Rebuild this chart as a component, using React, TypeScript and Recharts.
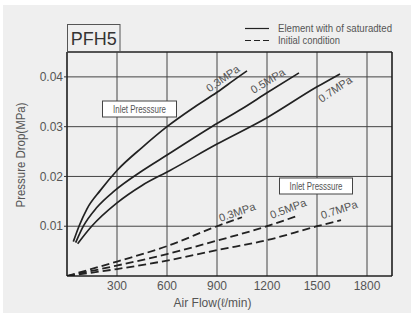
import React from 'react';
import { LineChart, Line, XAxis, YAxis, CartesianGrid, ReferenceLine } from 'recharts';

const xTicks = [300, 600, 900, 1200, 1500, 1800];
const yTicks = [0.01, 0.02, 0.03, 0.04];

const sat03 = [
  { x: 38, y: 0.0069 }, { x: 72, y: 0.01 }, { x: 120, y: 0.0135 }, { x: 200, y: 0.0172 },
  { x: 300, y: 0.0212 }, { x: 450, y: 0.0258 }, { x: 600, y: 0.03 }, { x: 750, y: 0.0336 },
  { x: 900, y: 0.0369 }, { x: 1020, y: 0.0398 }, { x: 1080, y: 0.0412 },
];
const sat05 = [
  { x: 52, y: 0.0067 }, { x: 98, y: 0.01 }, { x: 180, y: 0.0138 }, { x: 288, y: 0.0172 },
  { x: 454, y: 0.0212 }, { x: 600, y: 0.0243 }, { x: 868, y: 0.03 }, { x: 1050, y: 0.0336 },
  { x: 1200, y: 0.0368 }, { x: 1392, y: 0.0408 },
];
const sat07 = [
  { x: 64, y: 0.0065 }, { x: 148, y: 0.01 }, { x: 300, y: 0.0147 }, { x: 450, y: 0.0182 },
  { x: 618, y: 0.0212 }, { x: 900, y: 0.0265 }, { x: 1200, y: 0.0318 }, { x: 1500, y: 0.038 },
  { x: 1638, y: 0.0406 },
];
const init03 = [
  { x: 0, y: 0 }, { x: 300, y: 0.0029 }, { x: 600, y: 0.006 }, { x: 900, y: 0.01 }, { x: 1050, y: 0.0118 },
];
const init05 = [
  { x: 0, y: 0 }, { x: 300, y: 0.0021 }, { x: 600, y: 0.0044 }, { x: 900, y: 0.0071 }, { x: 1200, y: 0.01 }, { x: 1392, y: 0.0122 },
];
const init07 = [
  { x: 0, y: 0 }, { x: 300, y: 0.0014 }, { x: 600, y: 0.0031 }, { x: 900, y: 0.0052 }, { x: 1200, y: 0.0072 }, { x: 1500, y: 0.01 }, { x: 1644, y: 0.0112 },
];

const FONT = '"Liberation Sans", Arial, Helvetica, sans-serif';
const LINE = '#222';
const TXT = '#555';

export default function App() {
  const tick = { fontSize: 12, fill: TXT, fontFamily: FONT };
  return (
    <div style={{ position: 'absolute', left: 0, top: 0, width: 412, height: 315, background: '#fff' }}>
      <div style={{ position: 'absolute', left: 3, top: 5, width: 408, height: 308, background: '#efefef' }} />
      <div style={{ position: 'absolute', left: 0, top: 0 }}>
        <LineChart width={412} height={315} margin={{ top: 52, right: 20, bottom: 0, left: 0 }}>
          <CartesianGrid stroke="#444" strokeWidth={1} horizontal vertical />
          <XAxis
            type="number"
            dataKey="x"
            domain={[0, 1950]}
            ticks={xTicks}
            height={39}
            tickLine={false}
            tickSize={0}
            tickMargin={5}
            axisLine={{ stroke: '#111', strokeWidth: 1.2 }}
            tick={tick}
            allowDataOverflow
          />
          <YAxis
            type="number"
            dataKey="y"
            domain={[0, 0.045]}
            ticks={yTicks}
            width={67}
            tickSize={3}
            tickMargin={1}
            tickLine={{ stroke: '#333' }}
            axisLine={{ stroke: '#111', strokeWidth: 1.2 }}
            tick={tick}
            tickFormatter={(v: number) => v.toFixed(2)}
            allowDataOverflow
          />
          <ReferenceLine y={0.045} stroke="#111" strokeWidth={1.2} />
          <ReferenceLine x={1950} stroke="#111" strokeWidth={1.2} />
          <Line data={sat03} dataKey="y" type="monotone" stroke={LINE} strokeWidth={1.7} dot={false} isAnimationActive={false} />
          <Line data={sat05} dataKey="y" type="monotone" stroke={LINE} strokeWidth={1.7} dot={false} isAnimationActive={false} />
          <Line data={sat07} dataKey="y" type="monotone" stroke={LINE} strokeWidth={1.7} dot={false} isAnimationActive={false} />
          <Line data={init03} dataKey="y" type="monotone" stroke={LINE} strokeWidth={1.8} strokeDasharray="8 4" dot={false} isAnimationActive={false} />
          <Line data={init05} dataKey="y" type="monotone" stroke={LINE} strokeWidth={1.8} strokeDasharray="8 4" dot={false} isAnimationActive={false} />
          <Line data={init07} dataKey="y" type="monotone" stroke={LINE} strokeWidth={1.8} strokeDasharray="8 4" dot={false} isAnimationActive={false} />
        </LineChart>
      </div>
      <svg width={412} height={315} style={{ position: 'absolute', left: 0, top: 0, pointerEvents: 'none' }} fontFamily={FONT}>
        <rect x={67.5} y={24.5} width={52.5} height={27.5} fill="none" stroke="#555" strokeWidth={1} />
        <text x={93.7} y={45} fontSize={18} fill="#333" textAnchor="middle">PFH5</text>

        <line x1={245} x2={269} y1={28.5} y2={28.5} stroke={LINE} strokeWidth={1.2} />
        <text x={278} y={32} fontSize={11} fill={TXT} textLength={114} lengthAdjust="spacingAndGlyphs">Element with of saturadted</text>
        <line x1={245} x2={269} y1={40.5} y2={40.5} stroke={LINE} strokeWidth={1.2} strokeDasharray="6 3" />
        <text x={278} y={44} fontSize={11} fill={TXT} textLength={62} lengthAdjust="spacingAndGlyphs">Initial condition</text>

        <rect x={102.5} y={101} width={74} height={16} fill="#fff" stroke="#444" strokeWidth={1} />
        <text x={113} y={113} fontSize={11} fill={TXT} textLength={53} lengthAdjust="spacingAndGlyphs">Inlet Presssure</text>
        <rect x={279.5} y={178} width={73} height={16} fill="#fff" stroke="#444" strokeWidth={1} />
        <text x={289.5} y={190} fontSize={11} fill={TXT} textLength={53} lengthAdjust="spacingAndGlyphs">Inlet Presssure</text>

        <text transform="translate(222.7,78.3) rotate(-35)" textAnchor="middle" dominantBaseline="central" fontSize={11} fill={TXT}>0.3MPa</text>
        <text transform="translate(267.7,80.7) rotate(-31)" textAnchor="middle" dominantBaseline="central" fontSize={11} fill={TXT}>0.5MPa</text>
        <text transform="translate(335,89) rotate(-34)" textAnchor="middle" dominantBaseline="central" fontSize={11} fill={TXT}>0.7MPa</text>

        <text transform="translate(237,212) rotate(-19)" textAnchor="middle" dominantBaseline="central" fontSize={11} fill={TXT}>0.3MPa</text>
        <text transform="translate(288,208.5) rotate(-21)" textAnchor="middle" dominantBaseline="central" fontSize={11} fill={TXT}>0.5MPa</text>
        <text transform="translate(339,209.5) rotate(-18)" textAnchor="middle" dominantBaseline="central" fontSize={11} fill={TXT}>0.7MPa</text>

        <text transform="translate(25,155) rotate(-90)" textAnchor="middle" fontSize={12} fill={TXT} textLength={105} lengthAdjust="spacingAndGlyphs">Pressure Drop(MPa)</text>
        <text x={212.5} y={307} textAnchor="middle" fontSize={12} fill={TXT}>Air Flow(ℓ/min)</text>
      </svg>
    </div>
  );
}
